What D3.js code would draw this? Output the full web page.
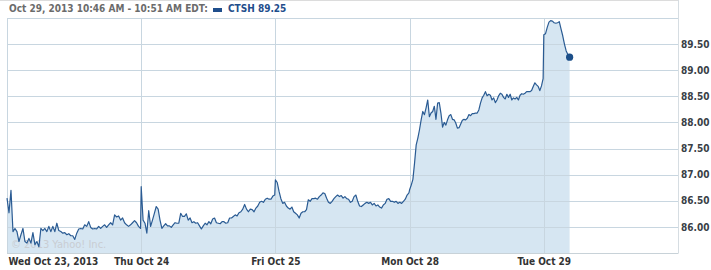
<!DOCTYPE html>
<html><head><meta charset="utf-8">
<script src="https://cdn.jsdelivr.net/npm/d3@7"></script>
<style>body{margin:0;background:#fff}svg{display:block}</style>
</head><body><svg id="c" width="711" height="270"></svg>
<script>
// ---- data ----
const dayLabels = ["Wed Oct 23, 2013", "Thu Oct 24", "Fri Oct 25", "Mon Oct 28", "Tue Oct 29"];
const yTickValues = [86.0, 86.5, 87.0, 87.5, 88.0, 88.5, 89.0, 89.5];
const headerText = "Oct 29, 2013 10:46 AM - 10:51 AM EDT:";
const seriesName = "CTSH";
const lastPrice = 89.25;

const wed = [86.55,86.27,86.70,85.91,85.97,85.91,85.72,85.85,85.97,85.72,85.69,85.78,85.69,85.89,85.66,85.72,85.62,85.97,85.93,85.97,85.91,86.01,85.91,86.01,85.91,86.07,85.93,85.91,85.88,85.89,85.85,85.87,85.83,85.83,85.76,85.88,85.96,85.97,85.96,86.04,86.01,86.10,85.99,85.96,85.97,85.96,86.01,85.97,86.01,86.04,85.99,86.04,86.08,86.04,86.23,86.19,86.21,86.13,86.17,86.08,86.04,86.01,86.04,86.08,86.12,86.08,86.01,85.97];
const thu = [86.77,86.13,86.07,85.88,86.31,86.01,86.13,86.26,86.39,86.34,86.13,85.97,86.02,86.06,86.02,86.02,85.99,86.04,86.08,86.07,86.07,86.26,86.20,86.20,86.25,86.13,86.17,86.08,86.10,86.07,86.08,86.02,85.96,86.02,86.07,86.04,86.10,86.06,86.15,86.17,86.08,86.07,86.06,86.10,86.10,86.07,86.08,86.17,86.17,86.20,86.23,86.21,86.27,86.29,86.34,86.43,86.34,86.29,86.34,86.33,86.29,86.36,86.40,86.47,86.49,86.47,86.53,86.55,86.53,86.53,86.59,86.61];
const fri = [86.90,86.85,86.68,86.54,86.45,86.47,86.40,86.36,86.34,86.38,86.29,86.26,86.23,86.17,86.26,86.29,86.29,86.33,86.52,86.49,86.54,86.54,86.55,86.53,86.58,86.61,86.65,86.64,86.55,86.47,86.45,86.49,86.54,86.58,86.61,86.58,86.60,86.55,86.58,86.54,86.53,86.47,86.49,86.58,86.61,86.49,86.40,86.39,86.42,86.45,86.47,86.45,86.47,86.42,86.45,86.40,86.42,86.38,86.36,86.42,86.45,86.53,86.54,86.49,86.49,86.47,86.49,86.45,86.47,86.45,86.49,86.53,86.61,86.65];
const mon = [86.71,86.80,86.91,87.22,87.57,87.70,87.86,88.05,88.21,88.15,88.28,88.43,88.11,88.18,88.21,88.31,88.06,88.37,88.38,88.18,87.91,88.00,87.95,88.05,88.13,88.15,88.06,88.05,87.99,87.89,87.90,87.97,88.04,88.06,88.05,88.08,88.15,88.13,88.17,88.17,88.18,88.18,88.24,88.37,88.47,88.52,88.59,88.51,88.54,88.52,88.43,88.47,88.38,88.43,88.51,88.56,88.54,88.48,88.45,88.54,88.48,88.54,88.43,88.47,88.45,88.48,88.43,88.52,88.55,88.54,88.56,88.59,88.59,88.59,88.61,88.69,88.76,88.72,88.69,88.61,88.70,88.84];
// Tuesday: 5-minute steps from the 9:30 open
const tue = [89.68,89.70,89.82,89.92,89.95,89.94,89.91,89.90,89.91,89.93,89.79,89.66,89.50,89.37,89.30,89.25];
const tueStepMinutes = 5;
const sessionMinutes = 390;

// ---- build points (x in trading days) ----
const fullDays = [wed, thu, fri, mon];
const points = [];
fullDays.forEach((arr, d) => {
  arr.forEach((v, i) => points.push({t: d + (i / (arr.length - 1)) * 0.995, v}));
});
tue.forEach((v, i) => points.push({t: 4 + i * tueStepMinutes / sessionMinutes, v}));

const svg = d3.select("#c");
const plot = {left: 7, right: 678, top: 18, bottom: 253};
const x = d3.scaleLinear().domain([0, 5]).range([plot.left, plot.right]);
const y = d3.scaleLinear().domain([85.5, 90]).range([plot.bottom, plot.top]);

const gridColor = "#c8d6e0";
const font = "Tahoma, 'DejaVu Sans Condensed', 'DejaVu Sans', sans-serif";

// outer frame
svg.append("line").attr("x1", 0).attr("x2", plot.right + 0.5).attr("y1", 0.5).attr("y2", 0.5)
  .attr("stroke", "#dcdcdc");
svg.append("line").attr("x1", plot.right + 0.5).attr("x2", plot.right + 0.5).attr("y1", 0).attr("y2", plot.bottom)
  .attr("stroke", "#d6dde2");

// area fill
const area = d3.area().x(d => x(d.t)).y0(y(85.5)).y1(d => y(d.v));
svg.append("path").datum(points).attr("d", area).attr("fill", "#d6e6f2");

// horizontal grid
const gridVals = d3.range(86, 90.001, 0.5);
svg.append("g").selectAll("line").data(gridVals).join("line")
  .attr("x1", plot.left).attr("x2", plot.right)
  .attr("y1", d => Math.round(y(d)) + 0.5).attr("y2", d => Math.round(y(d)) + 0.5)
  .attr("stroke", gridColor).attr("stroke-width", 1);
// vertical day grid
svg.append("g").selectAll("line").data(d3.range(0, 5)).join("line")
  .attr("x1", d => Math.round(x(d)) + 0.5).attr("x2", d => Math.round(x(d)) + 0.5)
  .attr("y1", plot.top).attr("y2", plot.bottom)
  .attr("stroke", gridColor).attr("stroke-width", 1);
// bottom axis line
svg.append("line").attr("x1", plot.left).attr("x2", plot.right + 0.5)
  .attr("y1", plot.bottom + 0.5).attr("y2", plot.bottom + 0.5).attr("stroke", "#c8d2d8");

// watermark
svg.append("text").attr("x", 11).attr("y", 248).text("\u00a9 2013 Yahoo! Inc.")
  .attr("font-family", font).attr("font-size", 11).attr("fill", "#c9cdd2");

// price line
const line = d3.line().x(d => x(d.t)).y(d => y(d.v));
svg.append("path").datum(points).attr("d", line).attr("fill", "none")
  .attr("stroke", "#2a5b93").attr("stroke-width", 1.2).attr("stroke-linejoin", "round");

// end dot
const last = points[points.length - 1];
svg.append("circle").attr("cx", x(last.t)).attr("cy", y(last.v)).attr("r", 3.6).attr("fill", "#1c4f89");

// y axis labels
const yAxis = d3.axisRight(y).tickValues(yTickValues).tickFormat(d3.format(".2f")).tickSize(0).tickPadding(3);
const ya = svg.append("g").attr("transform", `translate(${plot.right},0)`).call(yAxis);
ya.select(".domain").remove();
ya.selectAll("text").attr("font-family", font).attr("font-size", 10).attr("font-weight", "bold").attr("fill", "#3a3f47");

// x axis labels
const xAxis = d3.axisBottom(x).tickValues(d3.range(0, 5)).tickFormat(i => dayLabels[i]).tickSize(0).tickPadding(5);
const xa = svg.append("g").attr("transform", `translate(0,${plot.bottom})`).call(xAxis);
xa.select(".domain").remove();
xa.selectAll("text").attr("font-family", font).attr("font-size", 10).attr("font-weight", "bold").attr("fill", "#333")
  .attr("text-anchor", (d, i) => i === 0 ? "start" : "middle")
  .attr("x", (d, i) => i === 0 ? 1 : 0);

// header
svg.append("text").attr("x", 9).attr("y", 12).text(headerText)
  .attr("font-family", font).attr("font-size", 10).attr("font-weight", "bold").attr("fill", "#6b6b6b");
svg.append("rect").attr("x", 213).attr("y", 8).attr("width", 9).attr("height", 4).attr("fill", "#1f4e8c");
svg.append("text").attr("x", 228).attr("y", 12).text(`${seriesName} ${lastPrice.toFixed(2)}`)
  .attr("font-family", font).attr("font-size", 10).attr("font-weight", "bold").attr("fill", "#1f4e8c");
</script></body></html>
